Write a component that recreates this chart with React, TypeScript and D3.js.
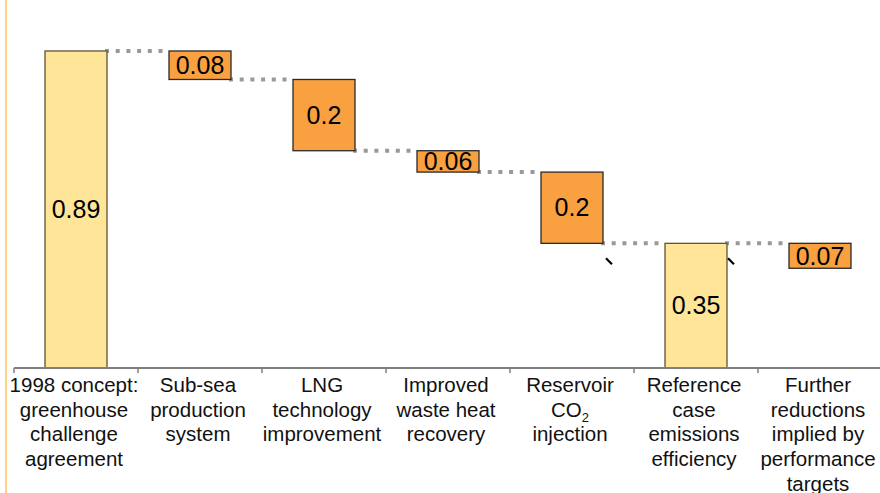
import React from "react";
import * as d3 from "d3";

const categories: string[][] = [
  ["1998 concept:", "greenhouse", "challenge", "agreement"],
  ["Sub-sea", "production", "system"],
  ["LNG", "technology", "improvement"],
  ["Improved", "waste heat", "recovery"],
  ["Reservoir", "CO_2", "injection"],
  ["Reference", "case", "emissions", "efficiency"],
  ["Further", "reductions", "implied by", "performance", "targets"],
];
const values: number[] = [0.89, 0.08, 0.2, 0.06, 0.2, 0.35, 0.07];
const isTotal: boolean[] = [true, false, false, false, false, true, false];
const valueLabels: string[] = ["0.89", "0.08", "0.2", "0.06", "0.2", "0.35", "0.07"];

const W = 880;
const H = 493;
const FONT = "'Liberation Sans', Arial, Helvetica, sans-serif";

export default function App() {
  const keys = categories.map((_, i) => String(i));
  const x = d3.scaleBand<string>().domain(keys).range([14, 882]).padding(0);
  const y = d3.scaleLinear().domain([0, 1]).range([368, 368 - 356.2]);
  const bw = x.bandwidth() * 0.5;

  let running = 0;
  const bars = values.map((v, i) => {
    let lo: number, hi: number;
    if (isTotal[i]) {
      lo = 0;
      hi = v;
      running = v;
    } else {
      hi = running;
      lo = running - v;
      running = lo;
    }
    const cx = (x(keys[i]) as number) + x.bandwidth() / 2;
    return { i, lo, hi, level: running, cx, x0: cx - bw / 2, x1: cx + bw / 2 };
  });

  const ticks = d3.range(categories.length + 1).map((i) => 14 + i * x.bandwidth());

  return (
    <svg
      width={W}
      height={H}
      style={{ position: "absolute", left: 0, top: 0, display: "block", background: "#fff" }}
      fontFamily={FONT}
    >
      <rect x={0} y={0} width={W} height={H} fill="#fff" />
      {/* left decorative line */}
      <line x1={6} x2={6} y1={0} y2={H} stroke="#FFD27F" strokeWidth={2} />

      {/* connectors */}
      {bars.slice(0, -1).map((b, k) => {
        const next = bars[k + 1];
        return (
          <line
            key={"c" + k}
            x1={b.x1 - 2}
            x2={next.x0 - 5}
            y1={y(b.level)}
            y2={y(b.level)}
            stroke="#999999"
            strokeWidth={4}
            strokeDasharray="4 6.7"
          />
        );
      })}

      {/* bars */}
      {bars.map((b) => (
        <g key={"b" + b.i}>
          <rect
            x={b.x0}
            y={y(b.hi)}
            width={bw}
            height={y(b.lo) - y(b.hi)}
            fill={isTotal[b.i] ? "#FFE597" : "#F9A040"}
            stroke={isTotal[b.i] ? "#5E5434" : "#2a2a2a"}
            strokeWidth={1.3}
          />
          <text
            x={b.cx}
            y={(y(b.lo) + y(b.hi)) / 2}
            dy="0.35em"
            textAnchor="middle"
            fontSize={25}
            fill="#000"
          >
            {valueLabels[b.i]}
          </text>
        </g>
      ))}

      {/* small tick marks (backticks) */}
      {[bars[4].x1 + 3, bars[5].x1 + 1].map((px, k) => (
        <line
          key={"bt" + k}
          x1={px}
          y1={y(bars[5].hi) + 15}
          x2={px + 6}
          y2={y(bars[5].hi) + 21}
          stroke="#000"
          strokeWidth={2.2}
        />
      ))}

      {/* axis */}
      <line x1={14} x2={W} y1={368} y2={368} stroke="#808080" strokeWidth={2} />
      {ticks.map((t, k) => (
        <line key={"t" + k} x1={t} x2={t} y1={368} y2={373} stroke="#808080" strokeWidth={1.5} />
      ))}

      {/* category labels */}
      {categories.map((lines, i) => {
        const cx = (x(keys[i]) as number) + x.bandwidth() / 2 - 2;
        return (
          <text key={"l" + i} x={cx} textAnchor="middle" fontSize={20.5} fill="#111">
            {lines.map((ln, j) => {
              const parts = ln.split("_");
              return (
                <tspan key={j} x={cx} y={391.7 + j * 24.8}>
                  {parts[0]}
                  {parts.length > 1 ? (
                    <tspan fontSize={13} dy={5}>
                      {parts[1]}
                    </tspan>
                  ) : null}
                </tspan>
              );
            })}
          </text>
        );
      })}
    </svg>
  );
}
